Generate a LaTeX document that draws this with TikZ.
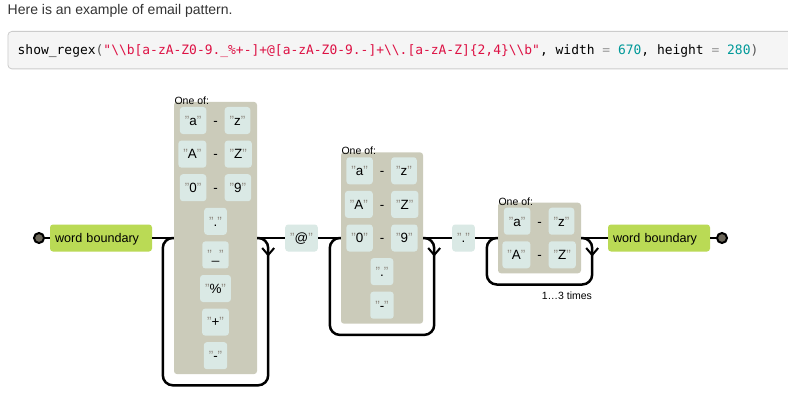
\documentclass[tikz,border=0pt]{standalone}
\usepackage{fontspec}
\setmainfont{Liberation Sans}
\newfontfamily\codefont{DejaVu Sans Mono}
\usetikzlibrary{calc}
\definecolor{litfill}{HTML}{DAE9E5}
\definecolor{setfill}{HTML}{CBCBBA}
\definecolor{wbgreen}{HTML}{BADA55}
\definecolor{termfill}{HTML}{6B6659}
\definecolor{quotec}{HTML}{908C83}
\definecolor{codebg}{HTML}{F5F5F5}
\definecolor{codeborder}{HTML}{CCCCCC}
\definecolor{cred}{HTML}{DD1144}
\definecolor{cteal}{HTML}{009999}
\definecolor{cgray}{HTML}{999999}
\definecolor{cparen}{HTML}{555555}
\definecolor{textdark}{HTML}{333333}
\newcommand\qlit[1]{\textcolor{quotec}{"}#1\textcolor{quotec}{"}}
\tikzset{
  fs/.style={font=\fontsize{#1}{#1}\selectfont},
  conn/.style={line width=2.5pt, draw=black},
  chev/.style={line width=2pt, draw=black},
  litbox/.style={fill=litfill, rounded corners=3pt, minimum height=27pt, inner xsep=5pt, inner ysep=0pt, text height=9.6pt, text depth=0pt, fs=13.4},
  dashlbl/.style={inner sep=0pt, text height=9.6pt, text depth=0pt, fs=13.4},
  setbox/.style={fill=setfill, rounded corners=3pt, inner sep=0pt},
  wbbox/.style={fill=wbgreen, rounded corners=3pt, minimum height=27pt, text width=92pt, inner xsep=5pt, inner ysep=0pt, align=left, text height=9pt, text depth=0pt, fs=12.6},
  terminal/.style={circle, fill=termfill, draw=black, line width=2pt, minimum size=10pt, inner sep=0pt},
  lbl/.style={inner sep=0pt, fs=10.5},
}
\newcommand\rangerow[5]{%
  \node[litbox, anchor=east] (#1a) at (#2-9,#3) {\qlit{#4}};
  \node[dashlbl] (#1d) at (#2,#3) {-};
  \node[litbox, anchor=west] (#1z) at (#2+9,#3) {\qlit{#5}};
}
\begin{document}
\begin{tikzpicture}[x=1pt,y=-1pt]
\path[use as bounding box, fill=white] (0,0) rectangle (788,404);

% heading and code
\node[anchor=base west, inner sep=0pt, fs=14, text=textdark] (head) at (7.5,15) {Here is an example of email pattern.};
\node[draw=codeborder, fill=codebg, rounded corners=4pt, minimum width=793pt, minimum height=37.5pt, anchor=north west, inner sep=0pt, line width=0.8pt] (cbox) at (7.5,31) {};
\node[anchor=base west, inner sep=0pt, font=\codefont\fontsize{12.95}{15}\selectfont] (code) at (17.5,54.5) {show\_regex\textcolor{cparen}{(}\textcolor{cred}{"\textbackslash\textbackslash b[a-zA-Z0-9.\_\%+-]+@[a-zA-Z0-9.-]+\textbackslash\textbackslash.[a-zA-Z]\{2,4\}\textbackslash\textbackslash b"}, width \textcolor{cgray}{=} \textcolor{cteal}{670}, height \textcolor{cgray}{=} \textcolor{cteal}{280}\textcolor{cparen}{)}};

% main nodes
\node[terminal] (c1) at (39,238) {};
\node[wbbox] (wb1) at (101,238) {word boundary};
\node[setbox, minimum width=83pt, minimum height=272.2pt] (g1) at (215.5,238) {};
\node[litbox] (at) at (301.5,238) {\qlit{@}};
\node[setbox, minimum width=82pt, minimum height=171.4pt] (g2) at (382,238) {};
\node[litbox] (dot) at (463.5,238) {\qlit{.}};
\node[setbox, minimum width=83pt, minimum height=70.6pt] (g3) at (539.5,238) {};
\node[wbbox] (wb2) at (659,238) {word boundary};
\node[terminal] (c2) at (722,238) {};

% labels
\node[lbl, anchor=base west] (g1l) at ($(g1.north west)+(0.5,2.5)$) {One of:};
\node[lbl, anchor=base west] (g2l) at ($(g2.north west)+(0.5,2.5)$) {One of:};
\node[lbl, anchor=base west] (g3l) at ($(g3.north west)+(0.5,2.5)$) {One of:};
\node[lbl, anchor=base east] (times) at ($(g3.south east)+(11,26)$) {1…3 times};

% group 1 contents
\rangerow{g1r1}{215.5}{120.5}{a}{z}
\rangerow{g1r2}{215.5}{154.1}{A}{Z}
\rangerow{g1r3}{215.5}{187.7}{0}{9}
\node[litbox] (g1r4) at (215.5,221.3) {\qlit{.}};
\node[litbox] (g1r5) at (215.5,254.9) {\qlit{\_}};
\node[litbox] (g1r6) at (215.5,288.5) {\qlit{\%}};
\node[litbox] (g1r7) at (215.5,322.1) {\qlit{+}};
\node[litbox] (g1r8) at (215.5,355.7) {\qlit{-}};

% group 2 contents
\rangerow{g2r1}{382}{170.8}{a}{z}
\rangerow{g2r2}{382}{204.4}{A}{Z}
\rangerow{g2r3}{382}{238}{0}{9}
\node[litbox] (g2r4) at (382,271.6) {\qlit{.}};
\node[litbox] (g2r5) at (382,305.2) {\qlit{-}};

% group 3 contents
\rangerow{g3r1}{539.5}{221.2}{a}{z}
\rangerow{g3r2}{539.5}{254.8}{A}{Z}

% main line
\draw[conn] (c1) -- (wb1);
\draw[conn] (wb1) -- (g1);
\draw[conn] (g1) -- (at);
\draw[conn] (at) -- (g2);
\draw[conn] (g2) -- (dot);
\draw[conn] (dot) -- (g3);
\draw[conn] (g3) -- (wb2);
\draw[conn] (wb2) -- (c2);

% loops
\foreach \g in {g1,g2,g3}{
  \draw[conn, rounded corners=10pt] (\g.east) -| ($(\g.south east)+(11,11)$) -| ($(\g.west)+(-11,0)$) -- (\g.west);
  \draw[chev] ($(\g.east)+(5,10)$) -- ($(\g.east)+(11,17)$) -- ($(\g.east)+(17,10)$);
}
\end{tikzpicture}
\end{document}
